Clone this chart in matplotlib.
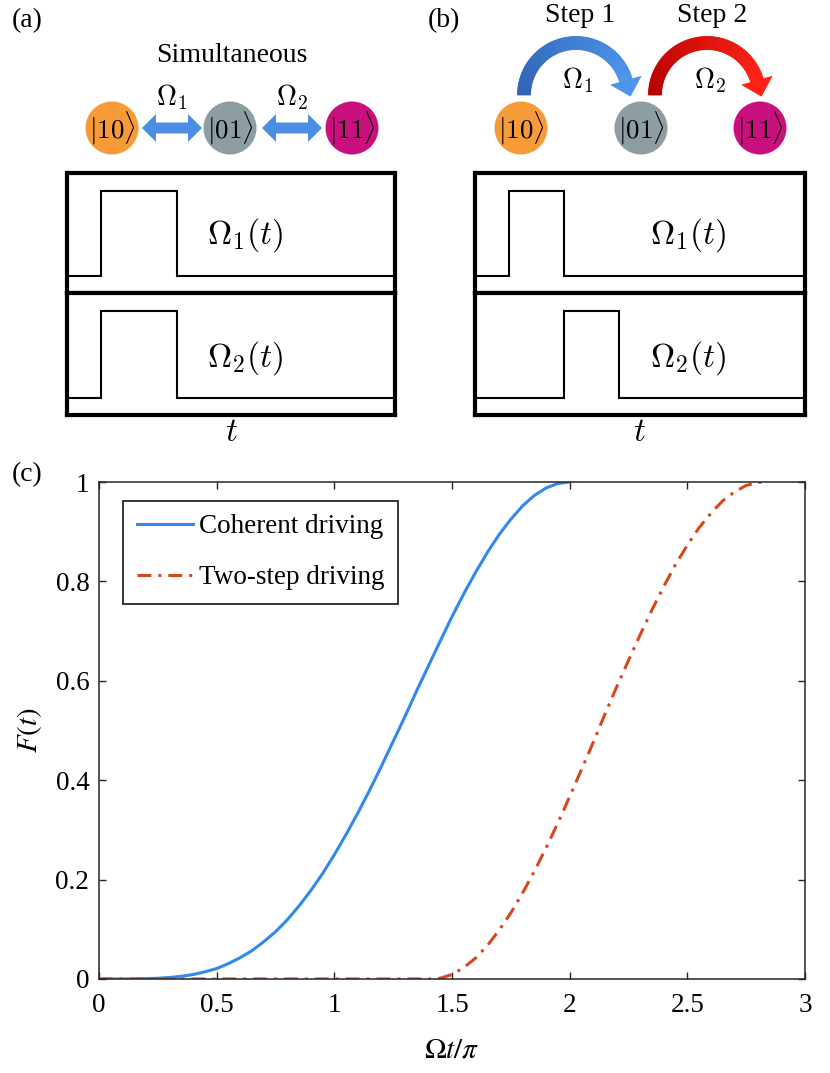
import numpy as np
import matplotlib
matplotlib.use("Agg")
import matplotlib.pyplot as plt
from matplotlib.patches import Circle, Polygon
from matplotlib.colors import to_rgb

plt.rcParams['font.family'] = ['Liberation Serif', 'DejaVu Serif']
plt.rcParams['mathtext.fontset'] = 'cm'
plt.rcParams['lines.scale_dashes'] = False

# --- panel (c): fidelity curves ---
x_coherent = [0.0, 0.05, 0.1, 0.15, 0.2, 0.25, 0.3, 0.35, 0.4, 0.45, 0.5,
              0.55, 0.6, 0.65, 0.7, 0.75, 0.8, 0.85, 0.9, 0.95, 1.0,
              1.05, 1.1, 1.15, 1.2, 1.25, 1.3, 1.35, 1.4, 1.45, 1.5,
              1.55, 1.6, 1.65, 1.7, 1.75, 1.8, 1.85, 1.9, 1.95, 2.0]
F_coherent = [0.0, 0.0, 0.0, 0.0002, 0.0006, 0.0015, 0.003, 0.0054, 0.009, 0.0144, 0.021,
              0.031, 0.043, 0.057, 0.075, 0.095, 0.119, 0.147, 0.178, 0.212, 0.25,
              0.291, 0.334, 0.380, 0.428, 0.478, 0.528, 0.580, 0.630, 0.680, 0.729,
              0.775, 0.818, 0.858, 0.894, 0.925, 0.952, 0.973, 0.988, 0.997, 1.0]

x_twostep = [0.0, 0.5, 1.0, 1.41, 1.45, 1.5, 1.55, 1.6, 1.65, 1.7, 1.75, 1.8, 1.85,
             1.9, 1.95, 2.0, 2.05, 2.1, 2.15, 2.2, 2.25, 2.3, 2.35, 2.4, 2.45,
             2.5, 2.55, 2.6, 2.65, 2.7, 2.75, 2.8, 2.83]
F_twostep = [0.0, 0.0, 0.0, 0.0, 0.0016, 0.009, 0.023, 0.042, 0.067, 0.098, 0.133, 0.173, 0.217,
             0.264, 0.314, 0.367, 0.421, 0.476, 0.533, 0.588, 0.641, 0.693, 0.743, 0.790, 0.834,
             0.873, 0.908, 0.937, 0.962, 0.980, 0.993, 0.999, 1.0]

series_labels = ['Coherent driving', 'Two-step driving']
series_colors = ['#3388ec', '#d9461c']

xticks = [0, 0.5, 1, 1.5, 2, 2.5, 3]
xticklabels = ['0', '0.5', '1', '1.5', '2', '2.5', '3']
yticks = [0, 0.2, 0.4, 0.6, 0.8, 1]
yticklabels = ['0', '0.2', '0.4', '0.6', '0.8', '1']

# --- panels (a)/(b): pulse sequences (arbitrary time units 0..10) ---
t_span = (0, 10)
pulses_a = [(1.04, 3.35), (1.04, 3.35)]
pulses_b = [(1.03, 2.70), (2.70, 4.36)]
pulse_names = [r'$\Omega_1(t)$', r'$\Omega_2(t)$']

states = [r'$|10\rangle$', r'$|01\rangle$', r'$|11\rangle$']
state_colors = ['#f79a38', '#8d9ea3', '#c8107f']

W, H = 830, 1073
fig = plt.figure(figsize=(W / 100, H / 100), dpi=100)


def px_axes(l, t, r, b):
    return fig.add_axes([l / W, 1 - b / H, (r - l) / W, (b - t) / H])


def pulse_panel(left, right, pulses):
    rows = [(173, 293), (293, 415)]
    for (top, bot), (t0, t1) in zip(rows, pulses):
        ax = px_axes(left, top, right, bot)
        ax.plot([t_span[0], t0, t0, t1, t1, t_span[1]], [0, 0, 1, 1, 0, 0],
                color='k', lw=1.5, solid_joinstyle='miter')
        ax.set_xlim(*t_span)
        ax.set_ylim(-0.2, 1.21)
        ax.set_xticks([])
        ax.set_yticks([])
        for sp in ax.spines.values():
            sp.set_linewidth(3)


pulse_panel(67, 395, pulses_a)
pulse_panel(475, 805, pulses_b)

# --- panel (c) ---
ax = px_axes(99, 482, 805, 979)
ax.plot(x_coherent, F_coherent, color=series_colors[0], lw=2.2, label=series_labels[0])
ax.plot(x_twostep, F_twostep, color=series_colors[1], lw=2.2,
        linestyle=(0, (10, 5, 2.2, 5)), label=series_labels[1])
ax.set_xlim(0, 3)
ax.set_ylim(0, 1)
ax.set_xticks(xticks)
ax.set_xticklabels(xticklabels)
ax.set_yticks(yticks)
ax.set_yticklabels(yticklabels)
ax.tick_params(direction='in', length=5, width=1, top=True, right=True,
               labelsize=19.5, colors='#262626', labelcolor='k')
ax.tick_params(axis='x', pad=10)
ax.tick_params(axis='y', pad=7)
for sp in ax.spines.values():
    sp.set_linewidth(1.1)
    sp.set_color('#262626')
ax.set_xlabel(r'$\Omega t/\pi$', fontsize=21, math_fontfamily='stix', labelpad=14)
ax.set_ylabel(r'$F(t)$', fontsize=21, math_fontfamily='stix', labelpad=8)
leg = ax.legend(loc='upper left', bbox_to_anchor=(0.034, 0.962), borderaxespad=0,
                fontsize=19.5, fancybox=False, framealpha=1, edgecolor='#262626',
                handlelength=2.1, handletextpad=0.2, labelspacing=0.95,
                borderpad=0.5)
leg.get_frame().set_linewidth(1.3)

# --- schematic overlay in pixel coordinates ---
ov = fig.add_axes([0, 0, 1, 1])
ov.set_xlim(0, W)
ov.set_ylim(H, 0)
ov.axis('off')
ov.set_zorder(5)


def double_arrow(x0, x1, cy, s=5.5, h=14, hl=14, color='#4a8fe3'):
    pts = [(x0, cy), (x0 + hl, cy - h), (x0 + hl, cy - s), (x1 - hl, cy - s),
           (x1 - hl, cy - h), (x1, cy), (x1 - hl, cy + h), (x1 - hl, cy + s),
           (x0 + hl, cy + s), (x0 + hl, cy + h)]
    ov.add_patch(Polygon(pts, closed=True, color=color, lw=0))


def arc_arrow(cx, cy, r, width, c0, c1, end_deg=16, head_w=31, head_l=16, n=80):
    c0, c1 = np.array(to_rgb(c0)), np.array(to_rgb(c1))
    th = np.radians(np.linspace(180, end_deg, n + 1))
    ri, ro = r - width / 2, r + width / 2
    for i in range(n):
        a, b = th[i], th[i + 1]
        col = c0 + (c1 - c0) * (i / (n - 1))
        quad = [(cx + ri * np.cos(a), cy - ri * np.sin(a)),
                (cx + ro * np.cos(a), cy - ro * np.sin(a)),
                (cx + ro * np.cos(b), cy - ro * np.sin(b)),
                (cx + ri * np.cos(b), cy - ri * np.sin(b))]
        ov.add_patch(Polygon(quad, closed=True, facecolor=col, edgecolor=col, lw=0.6))
    te = th[-1]
    bx, by = cx + r * np.cos(te), cy - r * np.sin(te)
    nx, ny = np.cos(te), -np.sin(te)
    dx, dy = np.sin(te), np.cos(te)
    tri = [(bx + nx * head_w / 2, by + ny * head_w / 2),
           (bx - nx * head_w / 2, by - ny * head_w / 2),
           (bx + dx * head_l, by + dy * head_l)]
    ov.add_patch(Polygon(tri, closed=True, facecolor=c1, edgecolor=c1, lw=0.6))


def state_row(xs, cy):
    for x, lab, col in zip(xs, states, state_colors):
        ov.add_patch(Circle((x, cy), 26.5, color=col, lw=0))
        ov.text(x, cy, lab, ha='center', va='center', fontsize=19.5)


# (a)
state_row([112, 230, 352], 128)
double_arrow(142, 202, 128)
double_arrow(262, 322, 128)
ov.text(172, 97, r'$\Omega_1$', ha='center', va='center', fontsize=20)
ov.text(292, 97, r'$\Omega_2$', ha='center', va='center', fontsize=20)
ov.text(232, 55, 'Simultaneous', ha='center', va='center', fontsize=20)

# (b)
state_row([521, 641, 760], 128)
arc_arrow(576, 95, 52, 13, '#2f62b5', '#4d95eb')
arc_arrow(707, 95, 52, 13, '#b50000', '#ff2214')
ov.text(578, 80, r'$\Omega_1$', ha='center', va='center', fontsize=20)
ov.text(710, 80, r'$\Omega_2$', ha='center', va='center', fontsize=20)
ov.text(580, 15, 'Step 1', ha='center', va='center', fontsize=20)
ov.text(712, 15, 'Step 2', ha='center', va='center', fontsize=20)

# pulse labels and time axis labels
for cx in (245, 688):
    ov.text(cx, 235, pulse_names[0], ha='center', va='center', fontsize=24)
    ov.text(cx, 358, pulse_names[1], ha='center', va='center', fontsize=24)
ov.text(232, 433, r'$t$', ha='center', va='center', fontsize=24)
ov.text(640, 433, r'$t$', ha='center', va='center', fontsize=24)

# panel tags
ov.text(27, 21, '(a)', ha='center', va='center', fontsize=20)
ov.text(444, 21, '(b)', ha='center', va='center', fontsize=20)
ov.text(27, 475, '(c)', ha='center', va='center', fontsize=20)

fig.savefig('out.png', dpi=100)
